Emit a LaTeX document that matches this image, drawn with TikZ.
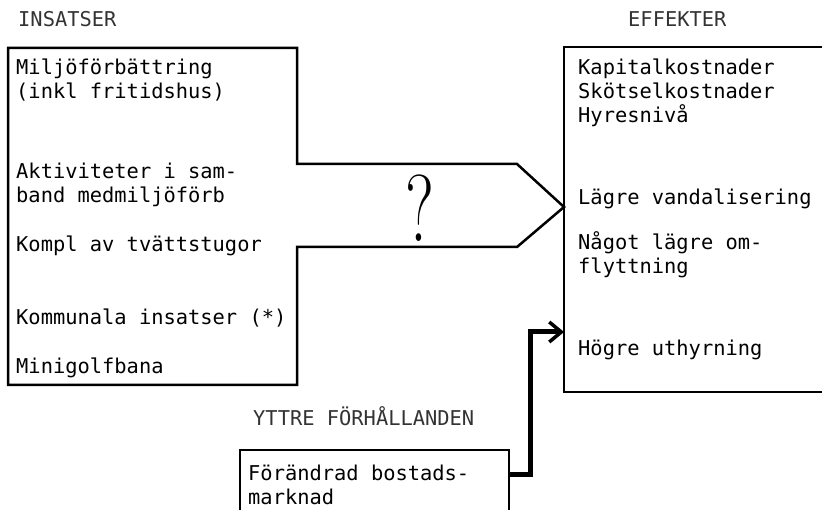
\documentclass[tikz,border=0pt]{standalone}
\usepackage{fontspec}
\setmonofont{DejaVu Sans Mono}
\usetikzlibrary{arrows.meta}

\begin{document}
\begin{tikzpicture}[x=1pt, y=-1pt,
    typed/.style={font=\ttfamily\fontsize{20.4}{24}\selectfont, inner sep=0pt,
      anchor=base west, align=left},
    heading/.style={typed, text=black!80},
    frame/.style={line width=2.5pt, line join=miter},
    link/.style={line width=5pt,
      -{Straight Barb[length=12pt, width=20pt, line width=3.5pt]}}]
  % canvas 822 x 510, units in pixels of the scanned page
  % (multi-line nodes are placed by the baseline of their last line)
  \useasboundingbox (0,0) rectangle (822,510);

  % --- headings ---
  \node[heading] (insatser) at (18,27) {INSATSER};
  \node[heading] (effekter) at (628,27) {EFFEKTER};
  \node[heading] (yttre)    at (253,425) {YTTRE FÖRHÅLLANDEN};

  % --- left box with the open channel towards the effects ---
  \draw[frame] (297,247) -- (297,385) -- (8,385) -- (8,48) -- (297,48)
    -- (297,164) -- (517,164) -- (564,207) -- (517,247) -- cycle;

  % --- right box (runs off the page) ---
  \draw[frame] (822,47) -- (564,47) -- (564,392) -- (822,392);

  % --- bottom box (cut at the page edge) ---
  \draw[frame] (240,515) -- (240,450) -- (509,450) -- (509,515);

  % --- measures ---
  \node[typed] (miljo)  at (16,99)  {Miljöförbättring\\(inkl fritidshus)};
  \node[typed] (aktiv)  at (16,203) {Aktiviteter i sam-\\band medmiljöförb};
  \node[typed] (kompl)  at (16,252) {Kompl av tvättstugor};
  \node[typed] (kommun) at (16,325) {Kommunala insatser (*)};
  \node[typed] (golf)   at (16,374) {Minigolfbana};

  % --- effects ---
  \node[typed] (kapital) at (578,123) {Kapitalkostnader\\Skötselkostnader\\Hyresnivå};
  \node[typed] (vandal)  at (578,205) {Lägre vandalisering};
  \node[typed] (flytt)   at (578,274) {Något lägre om-\\flyttning};
  \node[typed] (uthyr)   at (578,356) {Högre uthyrning};

  % --- external conditions ---
  \node[typed] (bostad) at (248,504) {Förändrad bostads-\\marknad};

  % --- unknown link ---
  \node[font=\fontsize{95}{95}\selectfont, xscale=0.7, inner sep=0pt] (fraga)
    at (420,208) {?};

  % --- market effect on letting ---
  \coordinate (ut) at (509,474);
  \coordinate (in) at (564,332);
  \draw[link] (ut) -- (530,474) |- (in);

\end{tikzpicture}
\end{document}
